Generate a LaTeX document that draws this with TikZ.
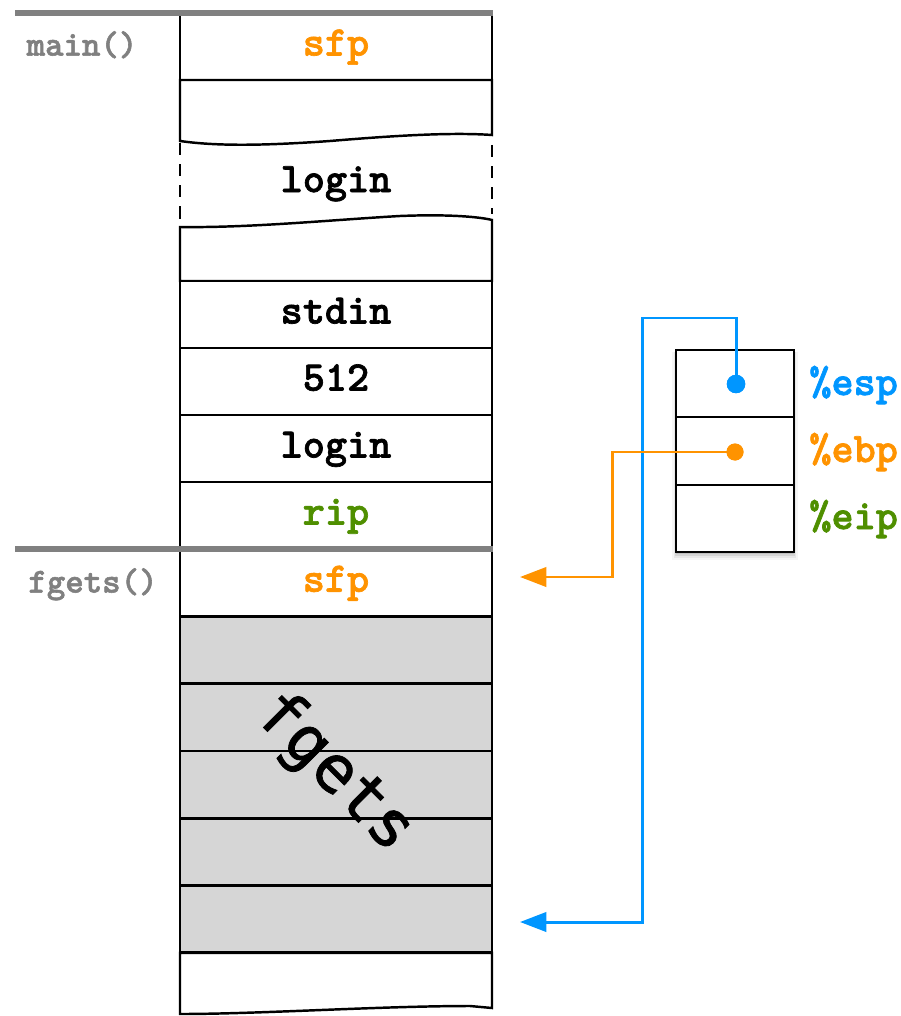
\documentclass[tikz,border=0pt]{standalone}
\usepackage{fontspec}
\newfontfamily\courb[FakeBold=1.6]{lmmonolt10-bold.otf}
\newfontfamily\dvmono[FakeBold=1.2]{DejaVu Sans Mono}
\usetikzlibrary{arrows.meta}
\definecolor{aorange}{RGB}{255,147,0}
\definecolor{ablue}{RGB}{0,150,255}
\definecolor{agreen}{RGB}{79,143,0}
\definecolor{agray}{RGB}{128,128,128}
\definecolor{cellgray}{RGB}{214,214,214}
\begin{document}
\begin{tikzpicture}[x=0.02cm,y=-0.02cm,
  celltxt/.style={font=\courb\fontsize{24}{24}\selectfont, text height=10.3pt, text depth=0pt},
  cell/.style={draw=black, line width=1.4pt, fill=white, minimum width=6.24cm, minimum height=1.34cm, inner sep=0pt, celltxt},
  graycell/.style={cell, fill=cellgray},
  regcell/.style={draw=black, line width=1.4pt, fill=white, minimum width=2.36cm, minimum height=1.35cm, inner sep=0pt},
  framelbl/.style={font=\courb\fontsize{20}{20}\selectfont, text=agray, text height=8.6pt, text depth=0pt},
  reglbl/.style={font=\courb\fontsize{24}{24}\selectfont, text height=10.3pt, text depth=0pt, anchor=west, inner sep=0pt},
  framebar/.style={draw=agray, line width=3.4pt},
  stroke/.style={draw=black, line width=1.4pt},
  wire/.style={line width=1.7pt, -{Triangle[length=15pt,width=11pt]}},
  regdot/.style={circle, inner sep=0pt}
]
\useasboundingbox (0,0) rectangle (901,1016);

% ---- top frame (main) ----
\node[cell] (sfpA) at (336,46.5) {\textcolor{aorange}{sfp}};
\path[stroke, fill=white] (180,80) -- (180,141)
   .. controls (215,146) and (260,146) .. (330,141)
   .. controls (390,136) and (450,132) .. (492,135) -- (492,80) -- cycle;
\draw[stroke, dash pattern=on 7pt off 5pt] (180,143) -- (180,223);
\draw[stroke, dash pattern=on 7pt off 5pt] (492,145) -- (492,214);
\node[celltxt] (loginA) at (336,183) {login};
\path[stroke, fill=white] (180,227)
   .. controls (250,228) and (330,220) .. (400,216)
   .. controls (450,214) and (480,217) .. (492,220) -- (492,281) -- (180,281) -- cycle;
\node[cell] (stdin) at (336,314.5) {stdin};
\node[cell] (n512) at (336,381.5) {512};
\node[cell] (loginB) at (336,448.5) {login};
\node[cell] (rip) at (336,515.5) {\textcolor{agreen}{rip}};

% ---- fgets frame ----
\node[cell] (sfpB) at (336,582.7) {\textcolor{aorange}{sfp}};
\node[graycell] (g1) at (336,650) {};
\node[graycell] (g2) at (336,717.3) {};
\node[graycell] (g3) at (336,784.6) {};
\node[graycell] (g4) at (336,851.9) {};
\node[graycell] (g5) at (336,919.2) {};
\path[stroke, fill=white] (180,952.8) -- (180,1014)
   .. controls (260,1014) and (380,1006) .. (470,1006) -- (492,1008) -- (492,952.8) -- cycle;
\node[rotate=-45, font=\dvmono\fontsize{37}{37}\selectfont] (fgetsL) at (334,773) {fgets};

% ---- frame bars and labels ----
\draw[framebar] (15,13) -- (493,13);
\draw[framebar] (15,549) -- (493,549);
\node[framelbl] (mainL) at (82,48) {main()};
\node[framelbl] (fgetsF) at (93,585) {fgets()};

% ---- registers ----
\foreach \d/\o in {0/0.10, 2/0.08, 4/0.06, 6/0.04}
  \fill[black, opacity=\o] (676-\d*0.6,352) rectangle (794+\d*0.6,554+\d);
\node[regcell] (r1) at (735,383.5) {};
\node[regcell] (r2) at (735,451) {};
\node[regcell] (r3) at (735,518.5) {};
\node[reglbl, text=ablue] (espL) at (809,386) {\%esp};
\node[reglbl, text=aorange] (ebpL) at (809,453) {\%ebp};
\node[reglbl, text=agreen] (eipL) at (809,520) {\%eip};

\node[regdot, fill=ablue, minimum size=0.37cm] (espdot) at (736,384) {};
\node[regdot, fill=aorange, minimum size=0.34cm] (ebpdot) at (735,452) {};
\coordinate (btip) at (520,922);
\coordinate (otip) at (520,577);
\draw[wire, ablue] (espdot.center) -- (espdot.center |- 0,318) -- (642,318) -- (642,922) -- (btip);
\draw[wire, aorange] (ebpdot.center) -- (612,452) -- (612,577) -- (otip);
\node[regdot, fill=ablue, minimum size=0.37cm] at (espdot) {};
\node[regdot, fill=aorange, minimum size=0.34cm] at (ebpdot) {};
\end{tikzpicture}
\end{document}
